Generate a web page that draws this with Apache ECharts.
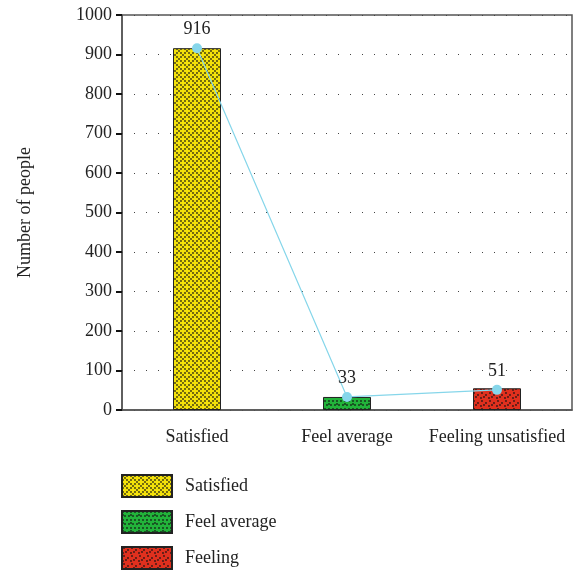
<!DOCTYPE html>
<html><head><meta charset="utf-8">
<script src="https://cdn.jsdelivr.net/npm/echarts@6/dist/echarts.min.js"></script>
<style>html,body{margin:0;padding:0;background:#fff}#c{width:584px;height:571px}</style>
</head><body><div id="c"></div>
<script>
const categories = ['Satisfied', 'Feel average', 'Feeling unsatisfied'];
const legendNames = ['Satisfied', 'Feel average', 'Feeling'];
const barValues = [916, 33, 55];
const lineValues = [916, 33, 51];
const yTicks = [0, 100, 200, 300, 400, 500, 600, 700, 800, 900, 1000];
const barColors = ['#f3e10a', '#22b33a', '#e0301e'];

function makePattern(bg, kind) {
  const c = document.createElement('canvas');
  c.width = 8; c.height = 8;
  const g = c.getContext('2d');
  g.fillStyle = bg; g.fillRect(0, 0, 8, 8);
  g.fillStyle = 'rgba(20,20,20,0.85)';
  const dots = kind === 0 ? [[1,1],[3,3],[5,5],[7,7],[5,1],[1,5]]
             : kind === 1 ? [[1,1],[5,1],[3,5],[7,5],[1,4]]
             : [[2,1],[6,3],[1,6],[4,5]];
  dots.forEach(([x,y]) => { g.beginPath(); g.arc(x, y, 0.9, 0, Math.PI*2); g.fill(); });
  return c;
}

const font = 'Liberation Serif';
const chart = echarts.init(document.getElementById('c'), null, {renderer: 'canvas'});
const series = legendNames.map((n, i) => ({
  name: n,
  type: 'bar',
  barWidth: 48,
  barGap: '-100%',
  data: barValues.map((v, j) => j === i ? v : '-'),
  itemStyle: {color: {image: makePattern(barColors[i], i), repeat: 'repeat'}, borderColor: '#222', borderWidth: 1},
  z: 2
}));
series.push({
  name: 'line',
  type: 'line',
  data: lineValues,
  symbol: 'circle',
  symbolSize: 10,
  itemStyle: {color: '#86d6ea'},
  lineStyle: {color: '#86d6ea', width: 1.2},
  label: {show: true, position: 'top', distance: 5, fontFamily: font, fontSize: 18, color: '#222'},
  z: 5
});
const legends = legendNames.map((n, i) => ({
  data: [n], orient: 'vertical', left: 121, top: 474 + i * 36, itemWidth: 50, itemHeight: 22,
  padding: 0,
  textStyle: {fontFamily: font, fontSize: 18, color: '#222', padding: [0, 0, 0, 8]}, icon: 'rect'
}));
chart.setOption({
  animation: false,
  grid: {left: 122, right: 12, top: 15, bottom: 161, show: true, borderColor: '#555', borderWidth: 1.5, backgroundColor: 'transparent'},
  legend: legends,
  xAxis: {
    type: 'category', data: categories,
    axisLine: {lineStyle: {color: '#555', width: 1.5}},
    axisTick: {alignWithLabel: true, length: 6, lineStyle: {color: '#111', width: 2}},
    axisLabel: {interval: 0, fontFamily: font, fontSize: 18, color: '#222', margin: 18}
  },
  yAxis: {
    type: 'value', min: yTicks[0], max: yTicks[yTicks.length-1], interval: 100,
    name: 'Number of people', nameLocation: 'middle', nameGap: 88, nameRotate: 90,
    nameTextStyle: {fontFamily: font, fontSize: 18, color: '#222'},
    axisLine: {show: true, lineStyle: {color: '#555', width: 1.5}},
    axisTick: {show: true, length: 6, lineStyle: {color: '#111', width: 2}},
    axisLabel: {fontFamily: font, fontSize: 18, color: '#222', margin: 10, formatter: v => String(v)},
    splitLine: {show: true, lineStyle: {color: '#444', width: 1, type: [1, 11]}}
  },
  series: series
});
</script></body></html>
